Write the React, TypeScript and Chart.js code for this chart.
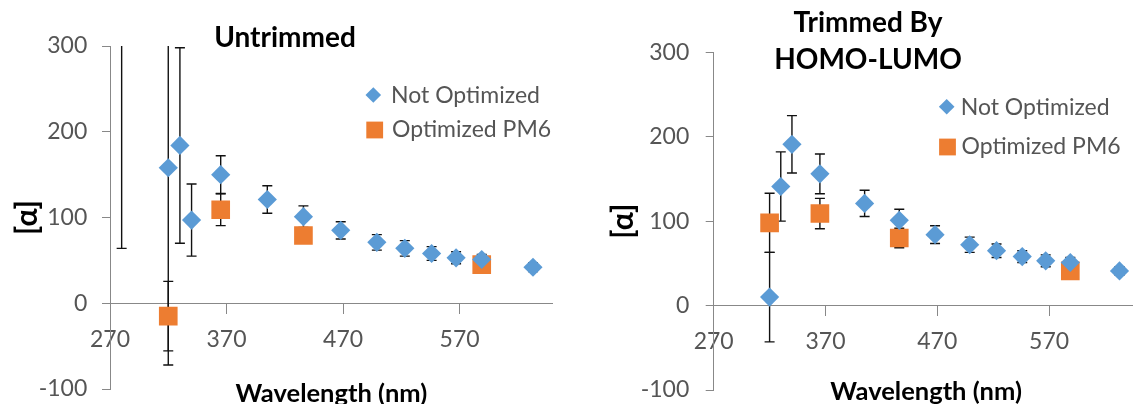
import React, { useEffect, useRef } from 'react';
import { Chart, registerables } from 'chart.js';

Chart.register(...registerables);

// ---- data: wavelength (nm), specific rotation [α] and its error (±) ----
const seriesLabels = ['Not Optimized', 'Optimized PM6'];

const untrimmedNotOptX = [280, 320, 330, 340, 365, 405, 436, 468, 499, 523, 546, 567, 589, 633];
const untrimmedNotOptY = [420, 158, 184, 97, 150, 121, 101, 85, 71, 64, 58, 53, 51, 42];
const untrimmedNotOptErr = [356, 230, 114, 42, 22, 16, 12.5, 10, 9, 9, 8, 7, 6, 5];

const untrimmedOptX = [320, 365, 436, 589];
const untrimmedOptY = [-15, 109, 79, 45];
const untrimmedOptErr = [40.5, 18.5, 9, 4];

const trimmedNotOptX = [320, 330, 340, 365, 405, 436, 468, 499, 523, 546, 567, 589, 633];
const trimmedNotOptY = [10, 141, 191, 156, 121, 101, 84, 72, 65, 58, 53, 51, 41];
const trimmedNotOptErr = [53, 41, 34, 23.5, 15.5, 13, 10.5, 9, 8, 7, 7, 6, 5];

const trimmedOptX = [320, 365, 436, 589];
const trimmedOptY = [98, 109, 80, 41];
const trimmedOptErr = [35, 18, 11.5, 4];

const xTicks = [270, 370, 470, 570];
const xMin = 270;
const xMax = 650;
const yMin = -100;
const yMax = 300;
const yStep = 100;

// ---- styling ----
const FONT = 'Lato';
const COLORS = ['#5B9BD5', '#ED7D31'];
const POINT_STYLES = ['rectRot', 'rect'];
const POINT_RADII = [9.6, 13.2];
const AXIS_COLOR = '#888888';
const TICK_COLOR = '#555555';

type Series = { label: string; x: number[]; y: number[]; err: number[] };

type Spot = { marker: [number, number]; text: [number, number] };

type PanelLayout = {
  left: number;
  width: number;
  height: number;
  padLeft: number;
  padRight: number;
  yAxisWidth: number;
  xTitleBand: number;
  titleTop: number;
  titleBottom: number;
  titleLineHeight: number;
  yTitlePad: number;
  xTitlePad: number;
  xTickPad: number;
  yTickPad: number;
  legend: Spot[];
};

// vertical error bars, drawn beneath the markers and clipped to the plot area
const errorBarPlugin = (series: Series[]) => ({
  id: 'errorBars',
  beforeDatasetsDraw(chart: any) {
    const { ctx, chartArea: a, scales } = chart;
    const xs = scales.x;
    const ys = scales.y;
    ctx.save();
    ctx.beginPath();
    ctx.rect(a.left, a.top, a.right - a.left, a.bottom - a.top);
    ctx.clip();
    ctx.strokeStyle = '#111111';
    ctx.lineWidth = 1.4;
    series.forEach((s) => {
      s.x.forEach((xv, j) => {
        const px = xs.getPixelForValue(xv);
        const lo = ys.getPixelForValue(s.y[j] - s.err[j]);
        const hi = ys.getPixelForValue(s.y[j] + s.err[j]);
        ctx.beginPath();
        ctx.moveTo(px, lo);
        ctx.lineTo(px, hi);
        ctx.moveTo(px - 5, lo);
        ctx.lineTo(px + 5, lo);
        ctx.moveTo(px - 5, hi);
        ctx.lineTo(px + 5, hi);
        ctx.stroke();
      });
    });
    ctx.restore();
  },
});

// legend entries placed inside the plot, to the upper right
const legendPlugin = (series: Series[], spots: Spot[]) => ({
  id: 'insetLegend',
  afterDraw(chart: any) {
    const { ctx } = chart;
    ctx.save();
    series.forEach((s, i) => {
      const spot = spots[i];
      const [mx, my] = spot.marker;
      ctx.fillStyle = COLORS[i];
      ctx.beginPath();
      if (POINT_STYLES[i] === 'rectRot') {
        const r = 7.8;
        ctx.moveTo(mx, my - r);
        ctx.lineTo(mx + r, my);
        ctx.lineTo(mx, my + r);
        ctx.lineTo(mx - r, my);
        ctx.closePath();
      } else {
        const h = 8.4;
        ctx.rect(mx - h, my - h, 2 * h, 2 * h);
      }
      ctx.fill();
      ctx.fillStyle = TICK_COLOR;
      ctx.font = `23px ${FONT}`;
      ctx.textBaseline = 'alphabetic';
      ctx.textAlign = 'left';
      ctx.fillText(s.label, spot.text[0], spot.text[1]);
    });
    ctx.restore();
  },
});

function ScatterPanel({ title, series, L }: { title: string | string[]; series: Series[]; L: PanelLayout }) {
  const ref = useRef<HTMLCanvasElement>(null);

  useEffect(() => {
    let chart: Chart | null = null;
    let alive = true;
    const build = () => {
      if (!alive || !ref.current) return;
      Chart.defaults.font.family = FONT;
      chart = new Chart(ref.current, {
        type: 'scatter',
        data: {
          datasets: series.map((s, i) => ({
            label: s.label,
            data: s.x.map((x, j) => ({ x, y: s.y[j] })),
            pointStyle: POINT_STYLES[i],
            pointRadius: POINT_RADII[i],
            pointHoverRadius: POINT_RADII[i],
            backgroundColor: COLORS[i],
            borderColor: COLORS[i],
            borderWidth: 0,
          })),
        },
        options: {
          responsive: false,
          animation: false,
          devicePixelRatio: 1,
          events: [],
          layout: { padding: { left: L.padLeft, right: L.padRight, top: 0, bottom: 0 } },
          plugins: {
            legend: { display: false },
            tooltip: { enabled: false },
            title: {
              display: true,
              text: title,
              color: '#000000',
              font: { family: FONT, size: 28, weight: 'bold', lineHeight: L.titleLineHeight },
              padding: { top: L.titleTop, bottom: L.titleBottom },
            },
          },
          scales: {
            x: {
              type: 'linear',
              min: xMin,
              max: xMax,
              position: { y: 0 },
              afterBuildTicks: (s: any) => {
                s.ticks = xTicks.map((v) => ({ value: v }));
              },
              afterFit: (s: any) => {
                s.height = 0;
              },
              ticks: {
                autoSkip: false,
                maxRotation: 0,
                color: TICK_COLOR,
                padding: L.xTickPad,
                font: { family: FONT, size: 23 },
              },
              grid: { drawOnChartArea: false, color: AXIS_COLOR, tickLength: 10 },
              border: { color: AXIS_COLOR, width: 1 },
            },
            xTitle: {
              type: 'linear',
              axis: 'x',
              position: 'bottom',
              min: xMin,
              max: xMax,
              ticks: { display: false },
              grid: { display: false, drawTicks: false },
              border: { display: false },
              title: {
                display: true,
                text: 'Wavelength (nm)',
                color: '#000000',
                font: { family: FONT, size: 25.5, weight: 'bold' },
                padding: { top: 0, bottom: L.xTitlePad },
              },
              afterFit: (s: any) => {
                s.height = L.xTitleBand;
              },
            },
            y: {
              type: 'linear',
              min: yMin,
              max: yMax,
              ticks: {
                stepSize: yStep,
                color: TICK_COLOR,
                padding: L.yTickPad,
                font: { family: FONT, size: 23 },
              },
              grid: { drawOnChartArea: false, color: AXIS_COLOR, tickLength: 8 },
              border: { color: AXIS_COLOR, width: 1 },
              title: {
                display: true,
                text: '[α]',
                color: '#000000',
                font: { family: FONT, size: 30, weight: 'bold' },
                padding: { top: L.yTitlePad, bottom: 0 },
              },
              afterFit: (s: any) => {
                s.width = L.yAxisWidth;
              },
            },
          },
        },
        plugins: [errorBarPlugin(series), legendPlugin(series, L.legend)],
      } as any);
    };
    Promise.all([
      document.fonts.load(`22px ${FONT}`),
      document.fonts.load(`bold 22px ${FONT}`),
    ]).then(build, build);
    return () => {
      alive = false;
      if (chart) chart.destroy();
    };
  }, []);

  return (
    <canvas
      ref={ref}
      width={L.width}
      height={L.height}
      style={{ position: 'absolute', left: L.left, top: 0, width: L.width, height: L.height, display: 'block' }}
    />
  );
}

const untrimmedSeries: Series[] = [
  { label: seriesLabels[0], x: untrimmedNotOptX, y: untrimmedNotOptY, err: untrimmedNotOptErr },
  { label: seriesLabels[1], x: untrimmedOptX, y: untrimmedOptY, err: untrimmedOptErr },
];

const trimmedSeries: Series[] = [
  { label: seriesLabels[0], x: trimmedNotOptX, y: trimmedNotOptY, err: trimmedNotOptErr },
  { label: seriesLabels[1], x: trimmedOptX, y: trimmedOptY, err: trimmedOptErr },
];

const leftLayout: PanelLayout = {
  left: 0,
  width: 566,
  height: 430,
  padLeft: 9,
  padRight: 5,
  yAxisWidth: 101,
  xTitleBand: 41,
  titleTop: 20.7,
  titleBottom: -8.3,
  titleLineHeight: 1.2,
  yTitlePad: 0.5,
  xTitlePad: 21.2,
  xTickPad: 12.5,
  yTickPad: 14.7,
  legend: [
    { marker: [373.3, 95], text: [391, 103.3] },
    { marker: [374.7, 130], text: [392, 136.7] },
  ],
};

const rightLayout: PanelLayout = {
  left: 576,
  width: 584,
  height: 430,
  padLeft: 21.5,
  padRight: 21.5,
  yAxisWidth: 116.2,
  xTitleBand: 40,
  titleTop: 4.95,
  titleBottom: -26.05,
  titleLineHeight: 1.31,
  yTitlePad: 7.5,
  xTitlePad: 22.7,
  xTickPad: 12.5,
  yTickPad: 16.4,
  legend: [
    { marker: [370.7, 106.7], text: [384.7, 115] },
    { marker: [371.5, 147], text: [385.5, 154] },
  ],
};

export default function App() {
  return (
    <div
      style={{
        position: 'fixed',
        left: 0,
        top: 0,
        width: 1133,
        height: 404,
        overflow: 'hidden',
        background: '#ffffff',
      }}
    >
      <ScatterPanel title="Untrimmed" series={untrimmedSeries} L={leftLayout} />
      <ScatterPanel title={['Trimmed By', 'HOMO-LUMO']} series={trimmedSeries} L={rightLayout} />
    </div>
  );
}
